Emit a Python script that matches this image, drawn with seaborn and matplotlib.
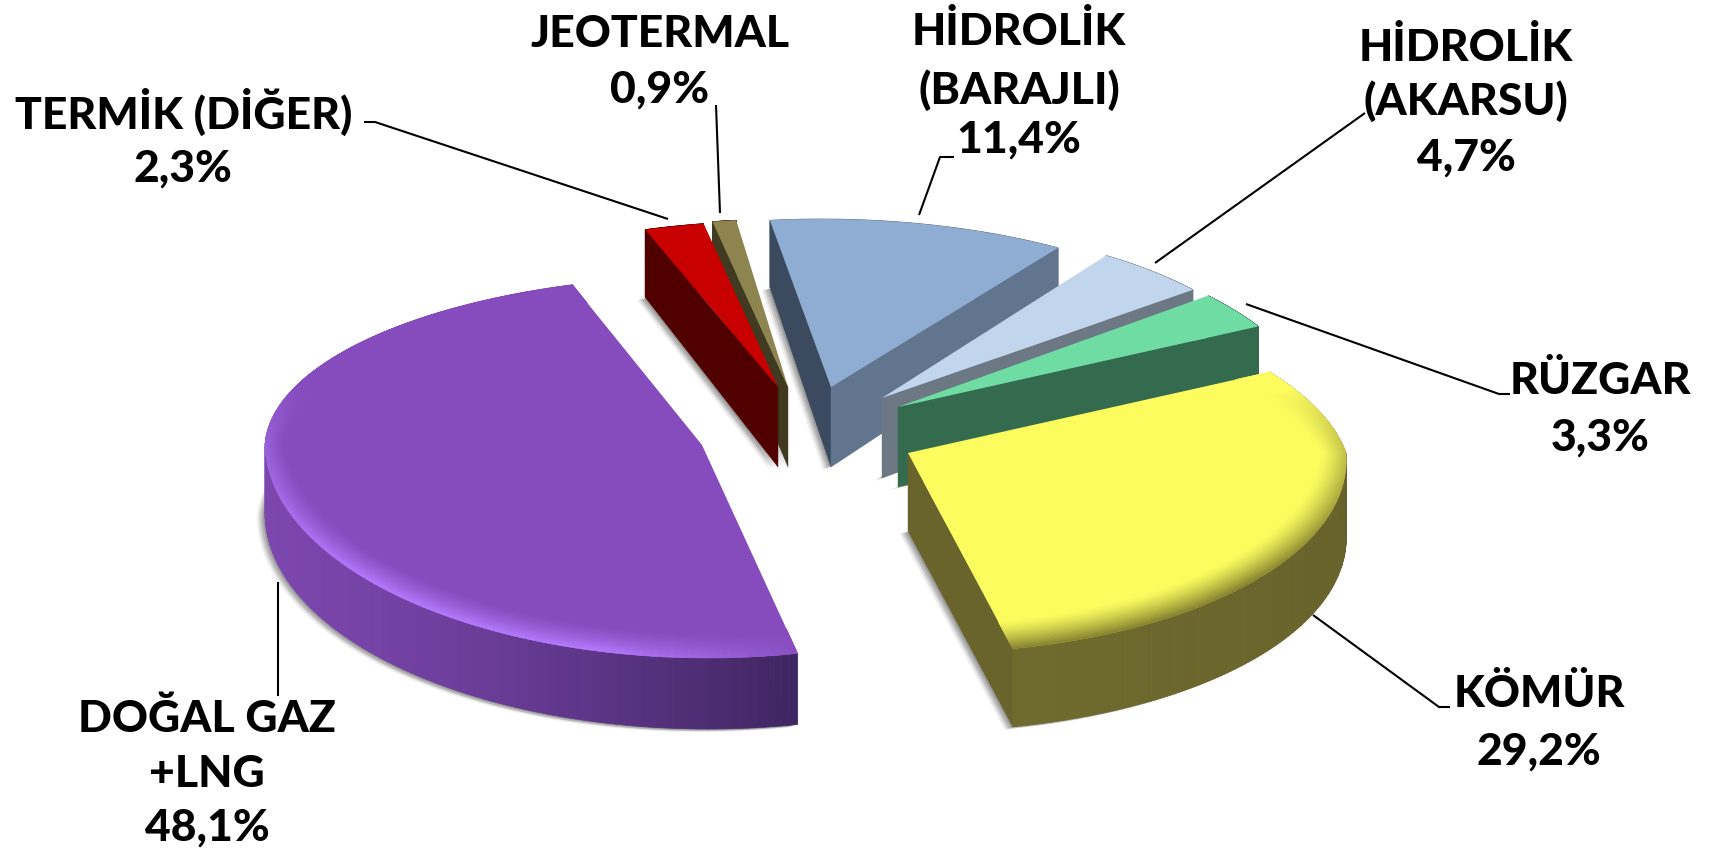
import numpy as np
import matplotlib
matplotlib.use("Agg")
import matplotlib.pyplot as plt
from matplotlib.collections import PolyCollection
from matplotlib.colors import to_rgb
from matplotlib.transforms import Transform
import seaborn as sns

# ---- data ----
categories = ["HİDROLİK (BARAJLI)", "HİDROLİK (AKARSU)", "RÜZGAR", "KÖMÜR",
              "DOĞAL GAZ +LNG", "TERMİK (DİĞER)", "JEOTERMAL"]
values = [11.4, 4.7, 3.3, 29.2, 48.1, 2.3, 0.9]
top_colors = ["#8fadd2", "#c1d6ec", "#6edca3", "#fcfc5f", "#864cbd", "#c80000", "#8e8450"]

# ---- 3-D look of each slice (apex pixel, radii, shear, wall height, colours) ----
geom = [
    dict(a=(831, 388), rx=420, rb=168, rf=168, kb=-10, kf=0, h=80, z=10,
         start="#3b4a5e", end="#61758f", wall=["#61758f", "#5a6d85"], rim=None),
    dict(a=(882, 399), rx=400, rb=172, rf=172, kb=0, kf=0, h=80, z=20,
         start=None, end="#6d7885", wall=["#6d7885", "#6d7885"], rim=None),
    dict(a=(898, 408), rx=415, rb=177, rf=177, kb=-20, kf=0, h=80, z=30,
         start=None, end="#346b4e", wall=["#346b4e", "#346b4e"], rim=None),
    dict(a=(908, 454), rx=438, rb=178, rf=200, kb=-62, kf=-15, h=78, z=60,
         start=None, end="#69642b", wall=["#6f6b2e", "#66622a"], rim="#85812f",
         rw=0.14, fade=1.5),
    dict(a=(702, 446), rx=437, rb=169, rf=213, kb=10, kf=-6, h=71, z=70,
         start=None, end=None, wall=["#7c46ae", "#3e2560"], rim="#b57bff",
         rw=0.12, fade=0.25),
    dict(a=(778, 388), rx=418, rb=166, rf=166, kb=0, kf=0, h=80, z=50,
         start="#510000", end=None, wall=["#510000", "#510000"], rim=None),
    dict(a=(788, 388), rx=425, rb=168, rf=168, kb=0, kf=0, h=80, z=40,
         start="#3f3a20", end=None, wall=["#3f3a20", "#3f3a20"], rim=None),
]

# ---- labels (text, centre x, centre y) ----
label_text = ["TERMİK (DİĞER)", "2,3%", "JEOTERMAL", "0,9%", "HİDROLİK", "(BARAJLI)", "11,4%",
              "HİDROLİK", "(AKARSU)", "4,7%", "RÜZGAR", "3,3%", "KÖMÜR", "29,2%",
              "DOĞAL GAZ", "+LNG", "48,1%"]
label_x = [184, 183, 660, 660, 1019, 1019, 1019, 1466, 1466, 1466, 1600, 1600, 1539, 1539, 207, 207, 207]
label_y = [112, 169, 34, 90, 31, 90, 140, 47, 101, 158, 381, 438, 694, 752, 719, 774, 828]

leaders = [
    [(364, 123), (375, 123), (668, 220)],
    [(716, 106), (720, 214)],
    [(954, 158), (940, 158), (919, 216)],
    [(1365, 114), (1155, 264)],
    [(1246, 305), (1499, 395), (1510, 395)],
    [(1313, 616), (1439, 708), (1450, 708)],
    [(278, 583), (278, 697)],
]


def warp(g, X, Y):
    X, Y = np.asarray(X, float), np.asarray(Y, float)
    k = np.where(Y > 0, g["kb"], g["kf"])
    r = np.where(Y > 0, g["rb"], g["rf"])
    return g["a"][0] + g["rx"] * X + k * Y, g["a"][1] - r * Y


class SliceWarp(Transform):
    input_dims = output_dims = 2
    is_affine = False

    def __init__(self, g):
        super().__init__()
        self.g = g

    def transform_non_affine(self, values):
        v = np.asarray(values, float)
        return np.column_stack(warp(self.g, v[:, 0], v[:, 1]))


def wall_h(g, Y):
    return g["h"] - 13 * np.clip(Y, 0, 1)


def mix(c1, c2, w):
    c1, c2 = np.array(to_rgb(c1)), np.array(to_rgb(c2))
    return c1 + (c2 - c1) * w


sns.set_theme(style="white")
fig = plt.figure(figsize=(17.10, 8.53), dpi=100, facecolor="white")
ax = fig.add_axes([0, 0, 1, 1])
palette = sns.color_palette(top_colors)
wedges, _ = ax.pie(values, colors=palette, startangle=97, counterclock=False,
                   radius=1, wedgeprops=dict(linewidth=0))

for w, g in zip(wedges, geom):
    z = g["z"]
    th = np.radians(np.linspace(w.theta1, w.theta2, 160))
    X, Y = np.cos(th), np.sin(th)
    xr, yr = warp(g, X, Y)
    hr = wall_h(g, Y)
    ax0, ay0 = g["a"]

    # soft drop shadow from the bottom face
    px = np.r_[ax0, xr]
    py = np.r_[ay0 + g["h"], yr + hr]
    for dx, dy, al in [(-8, 3, 0.10), (-6, 2, 0.14), (-4, 2, 0.18), (-2, 1, 0.22)]:
        ax.fill(px + dx, py + dy, color="#404040", alpha=al, lw=0, zorder=z)

    # outer wall, strips coloured from left to right
    xmin, xmax = xr.min(), xr.max()
    quads, cols = [], []
    for i in range(len(th) - 1):
        quads.append([(xr[i], yr[i]), (xr[i + 1], yr[i + 1]),
                      (xr[i + 1], yr[i + 1] + hr[i + 1]), (xr[i], yr[i] + hr[i])])
        f = ((xr[i] + xr[i + 1]) / 2 - xmin) / max(xmax - xmin, 1)
        cols.append(mix(g["wall"][0], g["wall"][1], f ** 1.4))
    ax.add_collection(PolyCollection(quads, facecolors=cols, edgecolors=cols,
                                     linewidths=0.5, zorder=z + 0.1))

    # straight cut walls (start = clockwise-first edge, end = clockwise-last edge)
    for key, i in (("start", -1), ("end", 0)):
        if g[key]:
            ax.fill([ax0, xr[i], xr[i], ax0],
                    [ay0, yr[i], yr[i] + hr[i], ay0 + g["h"]],
                    color=g[key], lw=0.3, zorder=z + 0.2)

    # top face: the pie wedge itself, warped into place
    w.set_transform(SliceWarp(g) + ax.transData)
    w.set_zorder(z + 0.5)

    # bevelled rim: about constant width on screen, strongest at the front
    if g["rim"]:
        steps = np.linspace(0, 1, 19)
        top = w.get_facecolor()[:3]
        width = g["rw"] * (0.4 + 0.6 * np.abs(Y))
        quads, cols = [], []
        for s0, s1 in zip(steps[:-1], steps[1:]):
            r0 = 1 - width * (1 - s0)
            r1 = 1 - width * (1 - s1)
            x0, y0 = warp(g, r0 * X, r0 * Y)
            x1, y1 = warp(g, r1 * X, r1 * Y)
            for i in range(len(th) - 1):
                quads.append([(x0[i], y0[i]), (x0[i + 1], y0[i + 1]),
                              (x1[i + 1], y1[i + 1]), (x1[i], y1[i])])
                tw = np.clip(0.35 - Y[i], 0, 1) ** 0.7
                tw *= np.clip((g["fade"] - X[i]) / 0.5, 0, 1)
                tw = min(tw, 1.0)
                cols.append(mix(top, g["rim"], tw * ((s0 + s1) / 2) ** 1.3))
        ax.add_collection(PolyCollection(quads, facecolors=cols, edgecolors=cols,
                                         linewidths=0.4, zorder=z + 0.6))

for pts in leaders:
    xs, ys = zip(*pts)
    ax.plot(xs, ys, color="black", lw=1.5, zorder=100, solid_capstyle="butt")

for t, x, y in zip(label_text, label_x, label_y):
    ax.text(x, y, t, ha="center", va="center", fontsize=32, fontweight="black",
            family=["Lato", "DejaVu Sans"], color="black", zorder=101)

ax.set_aspect("auto")
ax.set_xlim(0, 1710)
ax.set_ylim(853, 0)
ax.set_axis_off()
fig.savefig("out.png", dpi=100, facecolor="white")
